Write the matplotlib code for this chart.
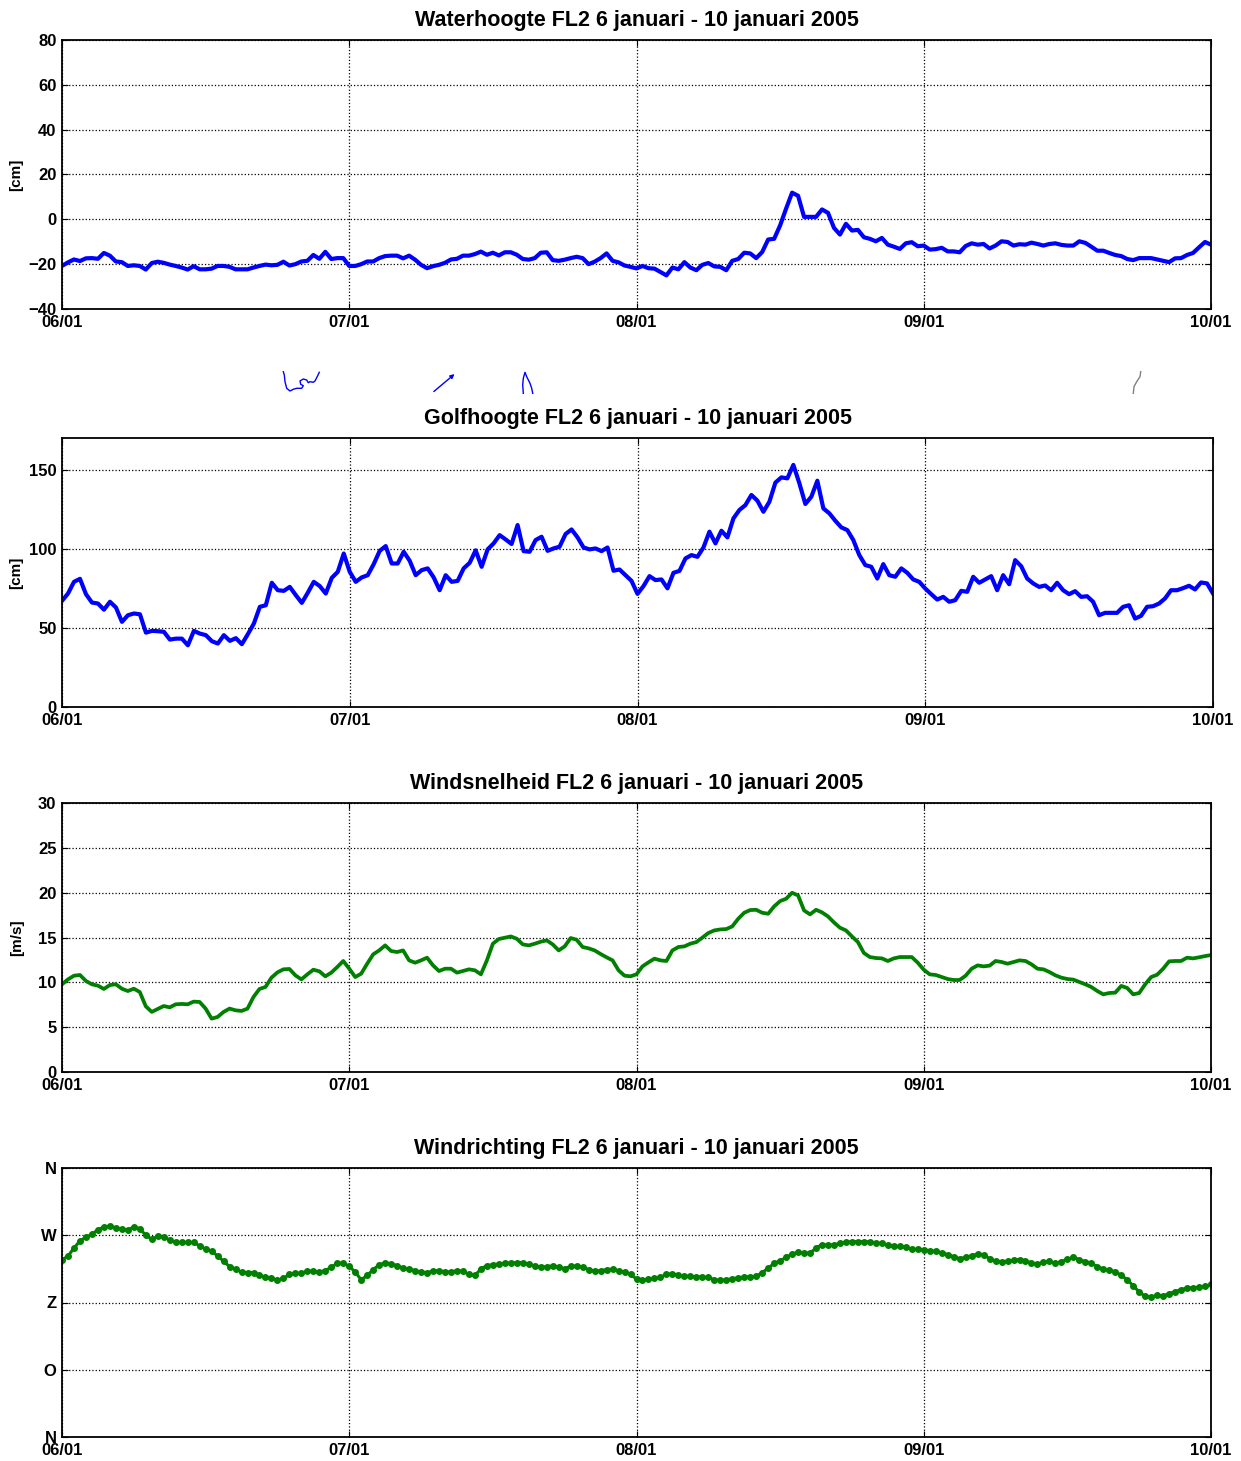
#!/usr/bin/env python

# Four stacked time series for station FL2, 6 - 10 January 2005:
# water level, wave height, wind speed and wind direction.

import numpy as np
from matplotlib import pyplot as plt

plt.rcParams['font.family'] = ['Liberation Sans', 'DejaVu Sans']
plt.rcParams['font.weight'] = 'bold'

# half-hourly water level [cm], 06/01 00:00 .. 10/01 00:00
water = [-20.8, -19.2, -17.9, -18.6, -17.4, -17.3, -17.6, -15.0, -16.2, -18.8,
         -19.1, -20.8, -20.5, -20.8, -22.4, -19.5, -18.9, -19.4, -20.2, -20.8,
         -21.5, -22.4, -20.9, -22.3, -22.3, -22.0, -20.8, -20.8, -21.2, -22.3,
         -22.3, -22.3, -21.5, -20.8, -20.2, -20.5, -20.3, -18.9, -20.6, -20.0,
         -18.8, -18.5, -15.9, -17.6, -14.5, -17.7, -17.3, -17.3, -20.8, -20.8,
         -20.0, -18.8, -18.8, -17.3, -16.4, -16.2, -16.2, -17.4, -16.2, -18.0,
         -20.3, -21.8, -20.9, -20.3, -19.4, -17.9, -17.6, -16.2, -16.2, -15.5,
         -14.4, -15.8, -14.9, -16.1, -14.7, -14.7, -15.8, -17.7, -18.0, -17.3,
         -14.9, -14.7, -18.2, -18.5, -18.0, -17.3, -16.7, -17.3, -20.0, -18.9,
         -17.3, -15.2, -18.5, -19.2, -20.6, -21.2, -21.9, -20.8, -21.8, -22.0,
         -23.5, -25.0, -21.5, -22.3, -19.1, -21.5, -22.7, -20.3, -19.5, -21.0,
         -21.2, -22.7, -18.5, -17.7, -14.9, -15.2, -17.3, -14.6, -9.0, -8.7,
         -2.7, 4.8, 11.9, 10.5, 1.1, 1.1, 1.1, 4.4, 2.9, -3.8,
         -6.8, -2.0, -5.0, -4.7, -8.0, -8.7, -9.8, -8.3, -11.3, -12.2,
         -13.2, -10.7, -10.2, -12.0, -11.7, -13.5, -13.3, -12.7, -14.3, -14.3,
         -14.7, -11.9, -10.7, -11.3, -11.0, -13.0, -11.7, -9.8, -10.1, -11.7,
         -11.1, -11.3, -10.4, -11.0, -11.7, -11.0, -10.7, -11.4, -11.7, -11.7,
         -9.8, -10.5, -12.2, -14.0, -14.0, -15.0, -15.9, -16.4, -17.7, -18.2,
         -17.3, -17.3, -17.3, -17.9, -18.5, -19.1, -17.4, -17.3, -15.9, -15.0,
         -12.5, -10.1, -11.3]

# half-hourly wave height [cm]
waves = [67.1, 71.7, 79.1, 81.0, 71.3, 66.0, 65.4, 61.5, 66.5, 62.9,
         53.8, 58.0, 59.1, 58.6, 47.0, 48.1, 47.9, 47.5, 42.6, 43.2,
         43.2, 39.0, 48.1, 46.4, 45.4, 41.6, 40.1, 45.4, 41.8, 43.5,
         39.7, 46.0, 52.7, 63.3, 64.3, 78.5, 73.8, 73.4, 75.9, 70.7,
         65.8, 72.2, 79.1, 76.4, 71.7, 81.6, 85.4, 97.0, 85.4, 79.1,
         81.9, 83.3, 90.3, 98.7, 101.7, 90.7, 90.7, 98.1, 92.4, 83.3,
         86.5, 87.6, 81.9, 73.8, 83.3, 79.1, 79.7, 87.6, 91.1, 99.0,
         88.6, 99.6, 103.4, 108.6, 105.9, 103.0, 115.0, 98.5, 98.1, 105.5,
         107.6, 98.7, 100.2, 101.3, 109.3, 112.2, 107.2, 100.8, 99.6, 100.2,
         98.5, 100.8, 86.1, 86.9, 83.3, 79.7, 71.5, 76.4, 82.7, 80.2,
         80.6, 75.0, 84.8, 86.0, 93.9, 96.0, 94.9, 100.8, 110.8, 103.4,
         111.4, 107.2, 119.2, 124.5, 127.6, 134.0, 130.4, 123.4, 129.7, 141.8,
         145.1, 144.5, 153.0, 141.4, 128.3, 132.9, 143.0, 125.5, 122.4, 117.7,
         113.5, 111.8, 105.5, 96.0, 89.7, 88.6, 81.2, 90.3, 83.3, 82.3,
         87.6, 84.8, 80.6, 79.1, 74.9, 71.3, 67.9, 69.6, 66.5, 67.5,
         73.4, 72.8, 82.3, 78.5, 80.6, 82.7, 73.8, 83.3, 77.6, 92.8,
         89.0, 81.2, 78.1, 75.9, 76.8, 73.8, 78.5, 73.8, 71.3, 73.2,
         69.6, 70.0, 66.5, 58.0, 59.5, 59.5, 59.5, 63.3, 64.3, 55.9,
         57.6, 63.3, 63.7, 65.4, 68.6, 73.8, 73.8, 75.1, 76.6, 74.3,
         78.7, 78.1, 71.7]

# half-hourly wind speed [m/s]
wind_speed = [9.78, 10.33, 10.74, 10.82, 10.15, 9.78, 9.63, 9.26, 9.70, 9.78,
              9.29, 9.03, 9.29, 8.92, 7.33, 6.70, 7.03, 7.36, 7.21, 7.55,
              7.59, 7.55, 7.85, 7.81, 7.07, 5.95, 6.14, 6.70, 7.07, 6.88,
              6.81, 7.07, 8.37, 9.26, 9.48, 10.52, 11.11, 11.45, 11.49, 10.78,
              10.33, 10.89, 11.41, 11.23, 10.67, 11.08, 11.71, 12.38, 11.52, 10.59,
              10.97, 12.08, 13.12, 13.56, 14.12, 13.49, 13.38, 13.56, 12.45, 12.19,
              12.45, 12.75, 11.89, 11.26, 11.52, 11.52, 11.08, 11.26, 11.45, 11.34,
              10.89, 12.45, 14.31, 14.83, 14.98, 15.12, 14.86, 14.23, 14.12, 14.31,
              14.53, 14.68, 14.23, 13.56, 14.01, 14.94, 14.75, 13.94, 13.79, 13.56,
              13.16, 12.79, 12.45, 11.34, 10.74, 10.67, 10.9, 11.78, 12.23, 12.64,
              12.45, 12.38, 13.56, 13.94, 14.01, 14.31, 14.49, 14.98, 15.50, 15.79,
              15.90, 15.94, 16.24, 17.09, 17.76, 18.06, 18.09, 17.76, 17.65, 18.47,
              19.06, 19.32, 19.99, 19.69, 18.02, 17.58, 18.09, 17.80, 17.35, 16.68,
              16.09, 15.79, 15.12, 14.49, 13.27, 12.82, 12.71, 12.67, 12.38, 12.67,
              12.82, 12.82, 12.82, 12.19, 11.41, 10.89, 10.82, 10.59, 10.37, 10.26,
              10.26, 10.74, 11.52, 11.89, 11.78, 11.86, 12.38, 12.27, 12.08, 12.27,
              12.45, 12.38, 12.01, 11.52, 11.45, 11.15, 10.78, 10.52, 10.37, 10.30,
              10.04, 9.78, 9.48, 9.03, 8.66, 8.81, 8.85, 9.60, 9.37, 8.66,
              8.81, 9.78, 10.59, 10.85, 11.52, 12.34, 12.38, 12.38, 12.75, 12.67,
              12.79, 12.93, 13.04]

# half-hourly wind direction [degrees, 0 = N]
wind_dir = [236.9, 242.2, 252.8, 262.5, 267.4, 271.3, 277.5, 281.0, 282.4, 279.7,
            277.9, 277.1, 281.0, 278.8, 270.0, 264.7, 268.7, 268.2, 263.4, 260.3,
            260.3, 260.3, 260.3, 255.9, 251.5, 248.4, 242.6, 235.1, 228.1, 224.6,
            220.6, 220.1, 220.1, 216.2, 214.0, 213.1, 209.6, 212.2, 217.5, 219.3,
            219.3, 221.9, 221.5, 220.6, 222.8, 227.2, 232.5, 232.5, 228.5, 220.6,
            210.4, 216.2, 224.1, 230.3, 233.4, 231.6, 229.4, 225.9, 224.6, 222.8,
            220.6, 220.1, 221.9, 222.8, 221.0, 221.0, 222.4, 221.9, 217.5, 216.2,
            225.0, 229.4, 230.7, 231.6, 232.5, 232.9, 233.4, 233.4, 231.6, 229.0,
            227.2, 228.1, 229.0, 227.2, 225.4, 228.5, 229.0, 227.2, 224.1, 221.9,
            222.4, 224.1, 224.6, 222.8, 220.6, 217.5, 211.5, 210.4, 210.9, 212.2,
            214.0, 217.5, 218.8, 216.2, 215.3, 214.9, 214.4, 214.0, 213.5, 210.4,
            209.6, 210.4, 211.8, 213.1, 214.0, 214.4, 214.9, 220.1, 225.9, 232.5,
            235.6, 240.4, 244.9, 247.1, 246.2, 246.2, 252.8, 257.6, 256.8, 257.2,
            259.0, 260.7, 261.6, 261.6, 261.6, 261.2, 259.9, 259.0, 256.8, 255.0,
            255.0, 253.7, 251.5, 251.0, 250.6, 249.3, 248.4, 246.6, 244.0, 241.3,
            238.7, 240.4, 242.6, 244.9, 244.0, 238.7, 235.1, 234.7, 235.1, 236.9,
            237.4, 236.0, 232.9, 231.6, 233.8, 235.1, 232.5, 234.7, 237.8, 240.4,
            237.4, 234.7, 232.5, 228.1, 224.6, 223.7, 221.0, 216.6, 210.4, 202.5,
            194.1, 188.4, 187.1, 189.7, 188.8, 191.9, 194.6, 197.2, 199.4, 199.9,
            200.3, 201.6, 204.3]

day_ticks = [0, 24, 48, 72, 96]
day_labels = ['06/01', '07/01', '08/01', '09/01', '10/01']
dir_ticks = [0, 90, 180, 270, 360]
dir_labels = ['N', 'O', 'Z', 'W', 'N']
period = '6 januari - 10 januari 2005'

# small stray vector tracks between the first two panels (figure pixels)
trace_a_x = [283.3, 284.3, 285.0, 286.7, 290.0, 293.3, 296.7, 301.7, 303.3, 300.7,
             300.0, 303.3, 306.7, 308.3, 310.0, 313.3, 315.0, 316.7, 319.3]
trace_a_y = [371.7, 375.0, 381.7, 388.3, 391.0, 389.3, 388.3, 388.3, 385.7, 384.3,
             381.0, 379.0, 380.0, 382.7, 381.7, 382.3, 381.0, 377.7, 372.3]
trace_b_x = [431.7, 456.7]
trace_b_y = [393.3, 372.3]
trace_c_x = [523.3, 522.7, 523.3, 525.0, 526.7, 530.0, 531.7, 532.7]
trace_c_y = [393.3, 385.0, 378.3, 372.3, 376.7, 383.3, 388.3, 393.3]
trace_d_x = [1140.7, 1140.0, 1136.7, 1134.0, 1133.3]
trace_d_y = [371.7, 376.7, 381.7, 386.7, 393.3]

t_half = np.arange(len(waves)) / 2.0

W, H = 1241, 1461
fig = plt.figure(figsize=(W / 100, H / 100), dpi=100)


def panel(top_px, right_px):
    ax = fig.add_axes([62 / W, 1 - (top_px + 269) / H,
                       (right_px - 62) / W, 269 / H])
    ax.set_xlim(0, 96)
    ax.set_xticks(day_ticks)
    ax.set_xticklabels(day_labels)
    ax.grid(True, color='black', linestyle=':', linewidth=0.9)
    ax.tick_params(direction='in', top=True, right=True, length=4,
                   labelsize=12, pad=4)
    ax.tick_params(axis='y', pad=4)
    for s in ax.spines.values():
        s.set_linewidth(1.3)
    return ax


def title(ax, name):
    ax.set_title(name + ' FL2 ' + period, fontsize=15.5, fontweight='bold', pad=10)


ax1 = panel(40, 1211)
ax1.plot(t_half, water, color='#0000ff', lw=3)
ax1.set_ylim(-40, 80)
ax1.set_yticks(range(-40, 81, 20))
ax1.set_ylabel('[cm]', fontsize=11, fontweight='bold', labelpad=4)
title(ax1, 'Waterhoogte')

ax2 = panel(438, 1213)
ax2.plot(t_half, waves, color='#0000ff', lw=3)
ax2.set_ylim(0, 170)
ax2.set_yticks([0, 50, 100, 150])
ax2.set_ylabel('[cm]', fontsize=11, fontweight='bold', labelpad=4)
title(ax2, 'Golfhoogte')

ax3 = panel(803, 1211)
ax3.plot(t_half, wind_speed, color='#008000', lw=2.7)
ax3.set_ylim(0, 30)
ax3.set_yticks(range(0, 31, 5))
ax3.set_ylabel('[m/s]', fontsize=11, fontweight='bold', labelpad=10)
title(ax3, 'Windsnelheid')

ax4 = panel(1168, 1211)
ax4.plot(t_half, wind_dir, color='#008000', lw=2.2, marker='o', ms=4,
         mec='#008000', mfc='#008000')
ax4.set_ylim(0, 360)
ax4.set_yticks(dir_ticks)
ax4.set_yticklabels(dir_labels)
title(ax4, 'Windrichting')

# overlay for the stray tracks
ov = fig.add_axes([0, 0, 1, 1])
ov.set_xlim(0, W)
ov.set_ylim(H, 0)
ov.axis('off')
ov.plot(trace_a_x, trace_a_y, color='#0000ff', lw=1)
ov.annotate('', xy=(trace_b_x[1], trace_b_y[1]), xytext=(trace_b_x[0], trace_b_y[0]),
            arrowprops=dict(arrowstyle='-|>', color='#0000ff', lw=1,
                            mutation_scale=6))
ov.plot(trace_c_x, trace_c_y, color='#0000ff', lw=1)
ov.plot(trace_d_x, trace_d_y, color='#808080', lw=1)

plt.savefig('out.png', dpi=100)
